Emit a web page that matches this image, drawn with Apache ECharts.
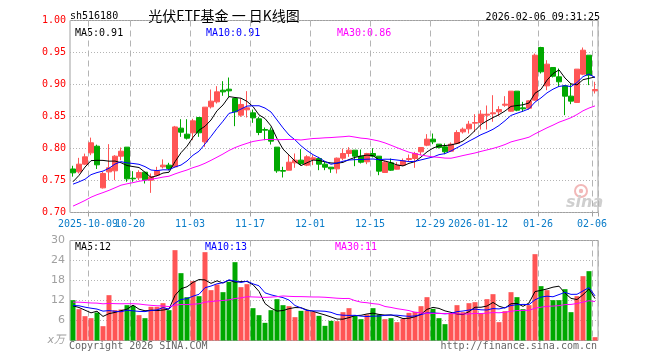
<!DOCTYPE html>
<html><head><meta charset="utf-8">
<script src="https://cdn.jsdelivr.net/npm/echarts@6/dist/echarts.min.js"></script>
<style>html,body{margin:0;padding:0;background:#fff}#c{width:660px;height:360px}</style>
</head><body><div id="c"></div>
<script>
const dates = ['2025-09-26','2025-09-29','2025-09-30',
'2025-10-09','2025-10-10','2025-10-13','2025-10-14','2025-10-15','2025-10-16','2025-10-17','2025-10-20','2025-10-21','2025-10-22','2025-10-23','2025-10-24','2025-10-27','2025-10-28','2025-10-29','2025-10-30','2025-10-31',
'2025-11-03','2025-11-04','2025-11-05','2025-11-06','2025-11-07','2025-11-10','2025-11-11','2025-11-12','2025-11-13','2025-11-14','2025-11-17','2025-11-18','2025-11-19','2025-11-20','2025-11-21','2025-11-24','2025-11-25','2025-11-26','2025-11-27','2025-11-28',
'2025-12-01','2025-12-02','2025-12-03','2025-12-04','2025-12-05','2025-12-08','2025-12-09','2025-12-10','2025-12-11','2025-12-12','2025-12-15','2025-12-16','2025-12-17','2025-12-18','2025-12-19','2025-12-22','2025-12-23','2025-12-24','2025-12-25','2025-12-26','2025-12-29','2025-12-30','2025-12-31',
'2026-01-05','2026-01-06','2026-01-07','2026-01-08','2026-01-09','2026-01-12','2026-01-13','2026-01-14','2026-01-15','2026-01-16','2026-01-19','2026-01-20','2026-01-21','2026-01-22','2026-01-23','2026-01-26','2026-01-27','2026-01-28','2026-01-29','2026-01-30',
'2026-02-02','2026-02-03','2026-02-04','2026-02-05','2026-02-06'];

const tickDates = ['2025-10-09','2025-10-20','2025-11-03','2025-11-17','2025-12-01','2025-12-15','2025-12-29','2026-01-12','2026-01-26','2026-02-06'];

const open  = [.768,.7635,.7755,.7932,.8036,.7385,.7635,.7651,.788,.8021,.7536,.7542,.763,.7505,.7583,.7714,.774,.7713,.8318,.8224,.8245,.8484,.8104,.8651,.8729,.8911,.8927,.8781,.8521,.8604,.8557,.8464,.8297,.8286,.8021,.7656,.7661,.7776,.7818,.774,.7828,.7844,.7755,.7708,.7682,.7849,.7922,.7974,.788,.7792,.7922,.788,.7625,.7776,.7677,.774,.7828,.7844,.7948,.8052,.8146,.8068,.8026,.7958,.8078,.826,.8307,.8396,.8406,.8521,.8542,.8573,.8677,.8583,.8896,.8635,.863,.8755,.9578,.8979,.9266,.912,.8979,.8818,.8719,.9161,.9458,.8901];
const close = [.762,.7755,.787,.8089,.7745,.761,.7698,.788,.7958,.7526,.7526,.7625,.751,.7557,.765,.774,.7688,.8337,.8255,.8161,.8432,.8245,.8646,.874,.8885,.8885,.8901,.8573,.8688,.8635,.8479,.825,.8286,.8115,.7651,.7646,.7786,.7818,.7766,.787,.7854,.7755,.7708,.7682,.7849,.7922,.7974,.788,.7786,.7922,.788,.7646,.7786,.7661,.774,.7807,.7844,.7922,.8016,.8146,.8104,.8016,.7948,.8068,.825,.8302,.838,.8406,.8536,.8536,.8557,.8609,.8693,.8896,.8599,.862,.8745,.9458,.9198,.9318,.913,.9042,.8818,.874,.924,.9536,.9146,.8922];
const low   = [.756,.761,.774,.7896,.768,.7375,.7505,.7505,.7818,.748,.748,.7505,.7453,.7307,.7568,.7688,.766,.770,.8182,.814,.813,.8182,.8026,.8625,.8703,.8823,.8807,.8349,.8495,.8484,.8401,.8208,.813,.8062,.762,.7547,.766,.7698,.774,.7724,.774,.7661,.7661,.762,.761,.7818,.787,.7724,.7766,.7755,.786,.7583,.762,.765,.7672,.7724,.7792,.7698,.7896,.8036,.8068,.80,.7911,.7948,.8068,.8234,.8234,.826,.8297,.8297,.8417,.8505,.8651,.8573,.8583,.8573,.8609,.8745,.9172,.8911,.911,.8964,.8521,.8693,.8714,.9146,.899,.8859];
const high  = [.773,.7854,.792,.817,.806,.7635,.8068,.7896,.8016,.8021,.7646,.766,.763,.761,.7714,.783,.7776,.8353,.8458,.8458,.8464,.8484,.8646,.8922,.8974,.9052,.9109,.8781,.8781,.8896,.8609,.8495,.8328,.8328,.8021,.7714,.7896,.7922,.799,.7896,.7896,.787,.7792,.7708,.7859,.80,.8021,.7974,.7984,.7932,.8005,.788,.7807,.7844,.7786,.7844,.7906,.7948,.8016,.8224,.8234,.8068,.8078,.8094,.8286,.8328,.8432,.8536,.8599,.8672,.8833,.8661,.8818,.8896,.8896,.8729,.8755,.9484,.9589,.938,.9266,.925,.899,.9016,.924,.9578,.9458,.9042];
const priorClose = [.648,.652,.655,.658,.662,.665,.668,.672,.69,.695,.70,.705,.71,.715,.72,.728,.725,.73,.727,.732,.74,.745,.738,.742,.738,.7255,.722,.759,.7715];

// volume, 万手
const volume = [12.1,9.4,7.3,6.7,8.4,4.3,13.6,9.1,9.3,10.6,10.4,7.6,6.7,10.1,10.1,11.2,9.1,27.1,20.2,13,17.8,13.3,26.5,15.1,16.8,14.5,17.6,23.5,16,16.9,9.7,7.6,5.3,9.1,12.4,10.6,10.3,7,8.9,9,8.6,7.4,4.4,5.9,5.8,8.5,9.7,7.4,6.4,7.8,9.7,7.8,6.4,6.7,5.5,6.5,8.3,8.6,10.3,13,9.5,6.7,4.9,8.1,10.6,8.5,11.2,11.5,8.1,12.4,13.9,5.5,8.8,14.5,13,9.4,10.6,25.9,16.3,15.1,12.1,12.1,15.4,8.5,13.3,19.3,20.8,1.0];
const priorVolume = [9.5,10.2,11.0,9.8,10.5,10.0,11.2,10.4,9.9,10.6,10.2,13.5,15.2,14.0,12.8,15.5,14.3,13.6,14.2,13.6,10.2,11.5,9.8,11.0,10.5,11.9,11.3,10.7,6.0];

const priceTicks = [0.70,0.75,0.80,0.85,0.90,0.95,1.00];
const volTicks = [0,6,12,18,24,30];

const RED = '#ff5555', GREEN = '#00a800', MAC = ['#000000','#0000ff','#ff00ff'];
const MONO = '"DejaVu Sans Mono", monospace';

function movingAvg(arr, prior, n) {
  const all = prior.concat(arr);
  return arr.map((_, i) => {
    const j = i + prior.length; let s = 0;
    for (let t = j - n + 1; t <= j; t++) s += all[t];
    return +(s / n).toFixed(4);
  });
}
const pMA = [5,10,30].map(n => movingAvg(close, priorClose, n));
const vMA = [5,10,30].map(n => movingAvg(volume, priorVolume, n));
const trunc = (v, d) => (Math.floor(v * Math.pow(10, d) + 1e-9) / Math.pow(10, d)).toFixed(d);

const kData = dates.map((d, i) => [open[i], close[i], low[i], high[i]]);
const up = dates.map((d, i) => close[i] >= open[i]);
const vData = volume.map((v, i) => ({value: v, itemStyle: {color: up[i] ? RED : GREEN}}));

const tickSet = new Set(tickDates);
const isTick = (idx, val) => tickSet.has(val);
function tickLabel(val) {
  const k = tickDates.indexOf(val);
  if (k < 0) return '';
  if (k === 0 || tickDates[k-1].slice(0,4) !== val.slice(0,4)) return val;
  return val.slice(5);
}

const L = 70, R = 62;
const chart = echarts.init(document.getElementById('c'), null, {renderer: 'canvas'});
const gridLine = {color: '#b4b4b4', width: 1};
chart.setOption({
  animation: false,
  backgroundColor: '#ffffff',
  grid: [
    {left: L, right: R, top: 20.5, height: 192, show: true, borderColor: '#a0a0a0', borderWidth: 1},
    {left: L, right: R, top: 240.5, height: 100, show: true, borderColor: '#a0a0a0', borderWidth: 1}
  ],
  xAxis: [
    {type: 'category', gridIndex: 0, data: dates, boundaryGap: true,
     axisLine: {show: false}, 
     axisTick: {show: true, interval: isTick, length: 4, lineStyle: {color: '#a0a0a0'}},
     axisLabel: {show: true, interval: 0, formatter: tickLabel, color: '#0a7cc8', fontFamily: MONO, fontSize: 10, margin: 7, padding: [0, 6, 0, 0]},
     splitLine: {show: true, interval: isTick, lineStyle: Object.assign({type: [6, 4]}, gridLine)}},
    {type: 'category', gridIndex: 1, data: dates, boundaryGap: true,
     axisLine: {show: false}, axisTick: {show: false}, axisLabel: {show: false},
     splitLine: {show: true, interval: isTick, lineStyle: Object.assign({type: [6, 4]}, gridLine)}}
  ],
  yAxis: [
    {type: 'value', gridIndex: 0, min: priceTicks[0], max: priceTicks[priceTicks.length-1], interval: 0.05,
     axisLine: {show: false}, axisTick: {show: false},
     axisLabel: {color: '#ff0000', fontFamily: MONO, fontSize: 10, margin: 4, formatter: v => v.toFixed(2)},
     splitLine: {show: true, lineStyle: Object.assign({type: [1, 2]}, gridLine)}},
    {type: 'value', gridIndex: 1, min: volTicks[0], max: volTicks[volTicks.length-1], interval: 6,
     axisLine: {show: false}, axisTick: {show: false},
     axisLabel: {color: '#a0a0a0', fontFamily: '"DejaVu Sans", sans-serif', fontSize: 11, margin: 5,
       formatter: v => v === 0 ? '{u|x万}' : String(v),
       rich: {u: {fontStyle: 'italic', color: '#a0a0a0', fontSize: 11, fontFamily: '"DejaVu Sans","Noto Sans CJK SC"'}}},
     splitLine: {show: true, lineStyle: Object.assign({type: [1, 2]}, gridLine)}}
  ],
  series: [
    {type: 'candlestick', xAxisIndex: 0, yAxisIndex: 0, data: kData, barWidth: 5,
     itemStyle: {color: RED, color0: GREEN, borderColor: RED, borderColor0: GREEN, borderWidth: 1}},
    ...pMA.map((d, i) => ({type: 'line', xAxisIndex: 0, yAxisIndex: 0, data: d, showSymbol: false, symbol: 'none',
      lineStyle: {color: MAC[i], width: 1}, z: 3})),
    {type: 'bar', xAxisIndex: 1, yAxisIndex: 1, data: vData, barWidth: 5},
    ...vMA.map((d, i) => ({type: 'line', xAxisIndex: 1, yAxisIndex: 1, data: d, showSymbol: false, symbol: 'none',
      lineStyle: {color: MAC[i], width: 1}, z: 3}))
  ],
  graphic: [
    {type: 'text', left: 70, top: 11, style: {text: 'sh516180', font: '10px ' + MONO, fill: '#000'}},
    {type: 'text', x: 224, y: 16, style: {text: '光伏ETF基金 一 日K线图', font: '14px "Noto Sans CJK SC"', fill: '#000', textAlign: 'center', textVerticalAlign: 'middle'}},
    {type: 'text', x: 600, y: 17, style: {text: '2026-02-06 09:31:25', font: '10px ' + MONO, fill: '#000', textAlign: 'right', textVerticalAlign: 'middle'}},
    {type: 'text', x: 75, y: 33, style: {text: 'MA5:' + trunc(pMA[0][87], 2), font: '10px ' + MONO, fill: MAC[0], textVerticalAlign: 'middle'}},
    {type: 'text', x: 206, y: 33, style: {text: 'MA10:' + trunc(pMA[1][87], 2), font: '10px ' + MONO, fill: MAC[1], textVerticalAlign: 'middle'}},
    {type: 'text', x: 337, y: 33, style: {text: 'MA30:' + trunc(pMA[2][87], 2), font: '10px ' + MONO, fill: MAC[2], textVerticalAlign: 'middle'}},
    {type: 'text', x: 75, y: 247, style: {text: 'MA5:' + trunc(vMA[0][87], 0), font: '10px ' + MONO, fill: MAC[0], textVerticalAlign: 'middle'}},
    {type: 'text', x: 205, y: 247, style: {text: 'MA10:' + trunc(vMA[1][87], 0), font: '10px ' + MONO, fill: MAC[1], textVerticalAlign: 'middle'}},
    {type: 'text', x: 335, y: 247, style: {text: 'MA30:' + trunc(vMA[2][87], 0), font: '10px ' + MONO, fill: MAC[2], textVerticalAlign: 'middle'}},
    {type: 'text', x: 69, y: 346, style: {text: 'Copyright 2026 SINA.COM', font: '10px ' + MONO, fill: '#666', textVerticalAlign: 'middle'}},
    {type: 'text', x: 597, y: 346, style: {text: 'http://finance.sina.com.cn', font: '10px ' + MONO, fill: '#666', textAlign: 'right', textVerticalAlign: 'middle'}},
    {type: 'group', x: 566, y: 184, silent: true, children: [
      {type: 'circle', shape: {cx: 15, cy: 7, r: 6}, style: {fill: 'none', stroke: '#f2b8b8', lineWidth: 2}},
      {type: 'circle', shape: {cx: 15, cy: 7, r: 2.2}, style: {fill: '#f2b8b8'}},
      {type: 'text', x: 0, y: 11, style: {text: 'sina', font: 'italic bold 16px "DejaVu Sans"', fill: '#cfcfcf'}}
    ]}
  ]
});
</script></body></html>
